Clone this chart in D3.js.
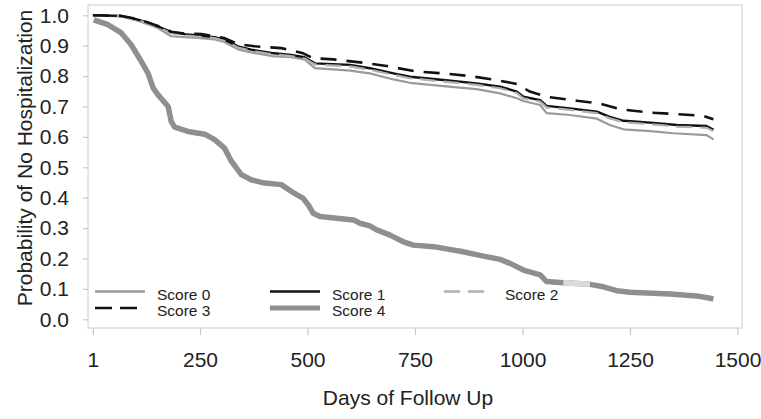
<!DOCTYPE html>
<html>
<head>
<meta charset="utf-8">
<script src="https://cdn.jsdelivr.net/npm/d3@7"></script>
<style>
  body { margin: 0; background: #fff; }
  text { font-family: Arial, "Liberation Sans", sans-serif; fill: #222; }
</style>
</head>
<body>
<div id="chart"></div>
<script>
// Kaplan-Meier style curves, [day, probability]
const score0 = [[1,1.0],[67,0.996],[106,0.982],[152,0.958],[183,0.931],[214,0.928],[245,0.926],[284,0.921],[307,0.912],[338,0.888],[369,0.878],[416,0.866],[462,0.862],[493,0.855],[517,0.826],[599,0.818],[645,0.809],[700,0.789],[738,0.778],[816,0.767],[893,0.757],[948,0.743],[987,0.727],[1002,0.718],[1041,0.705],[1056,0.678],[1110,0.672],[1173,0.660],[1203,0.639],[1235,0.625],[1297,0.619],[1351,0.612],[1428,0.606],[1444,0.592]];
const score1 = [[1,1.0],[67,0.998],[106,0.986],[152,0.964],[183,0.945],[214,0.938],[245,0.934],[284,0.928],[307,0.920],[338,0.898],[369,0.887],[416,0.876],[462,0.870],[493,0.862],[517,0.842],[599,0.837],[645,0.826],[700,0.809],[738,0.798],[816,0.787],[893,0.776],[948,0.765],[987,0.749],[1002,0.732],[1041,0.721],[1056,0.702],[1110,0.694],[1173,0.683],[1203,0.666],[1235,0.653],[1297,0.647],[1359,0.639],[1428,0.636],[1444,0.623]];
const score2 = [[1,1.0],[67,0.997],[106,0.984],[152,0.961],[183,0.941],[214,0.934],[245,0.930],[284,0.925],[307,0.916],[338,0.894],[369,0.883],[416,0.872],[462,0.866],[493,0.858],[517,0.838],[599,0.832],[645,0.821],[700,0.804],[738,0.793],[816,0.782],[893,0.771],[948,0.760],[987,0.744],[1002,0.727],[1041,0.716],[1056,0.697],[1110,0.689],[1173,0.678],[1203,0.661],[1235,0.648],[1297,0.642],[1359,0.634],[1428,0.630],[1444,0.619]];
const score3 = [[1,1.0],[67,0.998],[106,0.987],[152,0.965],[183,0.946],[214,0.940],[253,0.938],[307,0.925],[338,0.905],[377,0.898],[439,0.892],[490,0.875],[513,0.859],[560,0.855],[630,0.844],[684,0.833],[754,0.815],[816,0.809],[878,0.800],[940,0.787],[987,0.774],[1017,0.749],[1056,0.732],[1126,0.719],[1180,0.710],[1227,0.691],[1297,0.680],[1359,0.675],[1421,0.669],[1444,0.658]];
const score4 = [[3,0.985],[36,0.969],[67,0.942],[90,0.903],[113,0.849],[129,0.810],[141,0.761],[152,0.739],[176,0.700],[183,0.651],[191,0.632],[222,0.618],[261,0.609],[284,0.591],[307,0.563],[323,0.520],[346,0.476],[369,0.459],[400,0.448],[439,0.443],[462,0.421],[490,0.398],[502,0.376],[513,0.349],[529,0.338],[607,0.327],[622,0.316],[645,0.307],[661,0.294],[692,0.277],[723,0.255],[746,0.244],[793,0.239],[862,0.222],[909,0.208],[948,0.197],[971,0.184],[1002,0.162],[1041,0.146],[1056,0.124],[1095,0.120],[1157,0.115],[1188,0.107],[1219,0.094],[1250,0.089],[1343,0.083],[1405,0.077],[1436,0.069],[1444,0.067]];

const seriesNames = ["Score 0", "Score 1", "Score 2", "Score 3", "Score 4"];
const seriesData = [score0, score1, score2, score3, score4];
const xTicks = [1, 250, 500, 750, 1000, 1250, 1500];
const yTicks = [0, 0.1, 0.2, 0.3, 0.4, 0.5, 0.6, 0.7, 0.8, 0.9, 1.0];

const styles = {
  "Score 0": { color: "#9a9a9a", width: 2.2, dash: null },
  "Score 1": { color: "#111", width: 2.4, dash: null },
  "Score 2": { color: "#b0b0b0", width: 2.2, dash: "16,8" },
  "Score 3": { color: "#111", width: 2.6, dash: "16,10" },
  "Score 4": { color: "#8f8f8f", width: 5.5, dash: null }
};

const width = 761;
const height = 419;

const svg = d3.select("#chart")
  .append("svg")
  .attr("width", width)
  .attr("height", height);

const x = d3.scaleLinear().domain([0, 1500]).range([92.5, 737.5]);
const y = d3.scaleLinear().domain([0, 1]).range([319.3, 15.3]);

// plot frame
svg.append("rect")
  .attr("x", 88)
  .attr("y", 5)
  .attr("width", 654)
  .attr("height", 323)
  .attr("fill", "none")
  .attr("stroke", "#d4d4d4")
  .attr("stroke-width", 1.2);

const yAxis = svg.append("g")
  .attr("transform", "translate(88,0)")
  .call(d3.axisLeft(y).tickValues(yTicks).tickFormat(d3.format(".1f")).tickSize(5).tickPadding(14));

const xAxis = svg.append("g")
  .attr("transform", "translate(0,328)")
  .call(d3.axisBottom(x).tickValues(xTicks).tickFormat(d3.format("d")).tickSize(7).tickPadding(17));

[xAxis, yAxis].forEach((g) => {
  g.select(".domain").remove();
  g.selectAll(".tick line").attr("stroke", "#c8c8c8").attr("stroke-width", 1.2);
  g.selectAll(".tick text")
    .attr("fill", "#222")
    .style("font-size", "21px")
    .style("font-family", "Arial, 'Liberation Sans', sans-serif");
});

const line = d3.line()
  .x((d) => x(d[0]))
  .y((d) => y(d[1]))
  .curve(d3.curveLinear);

const curves = svg.append("g");
seriesNames.forEach((name, i) => {
  const s = styles[name];
  curves.append("path")
    .datum(seriesData[i])
    .attr("d", line)
    .attr("fill", "none")
    .attr("stroke", s.color)
    .attr("stroke-width", s.width)
    .attr("stroke-linejoin", "round")
    .attr("stroke-dasharray", s.dash);
});

// faded stretch on the Score 4 curve, as in the original scan
curves.append("path")
  .datum(score4.filter((d) => d[0] >= 1095 && d[0] <= 1157))
  .attr("d", line)
  .attr("fill", "none")
  .attr("stroke", "#dadada")
  .attr("stroke-width", 5.5);

// legend, two rows of three
const legendPos = [
  { name: "Score 0", lx: 95, ly: 291.5 },
  { name: "Score 1", lx: 270, ly: 291.5 },
  { name: "Score 2", lx: 444, ly: 291.5 },
  { name: "Score 3", lx: 95, ly: 308 },
  { name: "Score 4", lx: 270, ly: 308 }
];
const legend = svg.append("g");
legendPos.forEach((p) => {
  const s = styles[p.name];
  const len = p.name === "Score 2" ? 42 : 50;
  legend.append("line")
    .attr("x1", p.lx)
    .attr("x2", p.lx + len)
    .attr("y1", p.ly)
    .attr("y2", p.ly)
    .attr("stroke", s.color)
    .attr("stroke-width", p.name === "Score 4" ? 5 : 2.4)
    .attr("stroke-dasharray", p.name === "Score 3" ? "17,8" : s.dash);
  legend.append("text")
    .attr("x", p.name === "Score 2" ? p.lx + 61 : p.lx + 62)
    .attr("y", p.ly + 8)
    .style("font-size", "15.5px")
    .text(p.name);
});

svg.append("text")
  .attr("x", 408)
  .attr("y", 405)
  .attr("text-anchor", "middle")
  .style("font-size", "21px")
  .text("Days of Follow Up");

svg.append("text")
  .attr("transform", "translate(32,158) rotate(-90)")
  .attr("text-anchor", "middle")
  .style("font-size", "21px")
  .text("Probability of No Hospitalization");
</script>
</body>
</html>
